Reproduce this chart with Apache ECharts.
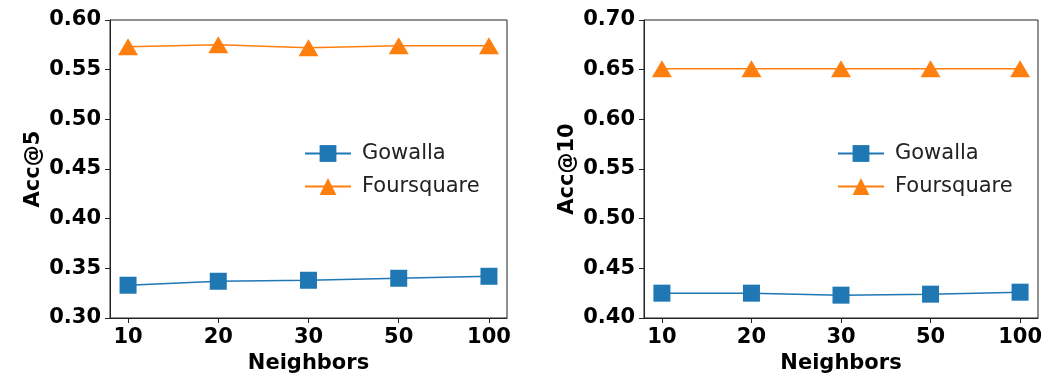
<!DOCTYPE html>
<html><head><meta charset="utf-8">
<script src="https://cdn.jsdelivr.net/npm/echarts@6/dist/echarts.min.js"></script>
<style>html,body{margin:0;padding:0;background:#fff}#c{width:1047px;height:374px}</style>
</head><body><div id="c"></div>
<script>
const categories = ['10', '20', '30', '50', '100'];
const gowallaAcc5 = [0.333, 0.337, 0.338, 0.340, 0.342];
const foursquareAcc5 = [0.573, 0.575, 0.572, 0.574, 0.574];
const gowallaAcc10 = [0.425, 0.425, 0.423, 0.424, 0.426];
const foursquareAcc10 = [0.651, 0.651, 0.651, 0.651, 0.651];
const yTicks5 = [0.30, 0.35, 0.40, 0.45, 0.50, 0.55, 0.60];
const yTicks10 = [0.40, 0.45, 0.50, 0.55, 0.60, 0.65, 0.70];

const FONT = 'DejaVu Sans';
const BLUE = '#1f77b4', ORANGE = '#ff7f0e';
const idx = categories.map((c, i) => i);
const toPts = arr => arr.map((v, i) => [i, v]);

function xAxis(gi) {
  return {
    type: 'value', gridIndex: gi, min: -0.2, max: 4.2,
    name: 'Neighbors', nameLocation: 'middle', nameGap: 33,
    nameTextStyle: {fontFamily: FONT, fontWeight: 'bold', fontSize: 21, color: '#000'},
    axisLine: {show: true, onZero: false, lineStyle: {color: '#222', width: 1}},
    axisTick: {show: true, length: 5, customValues: idx, lineStyle: {color: '#222'}},
    axisLabel: {customValues: idx, margin: 9, fontFamily: FONT, fontWeight: 'bold', fontSize: 21, color: '#000',
      formatter: v => categories[Math.round(v)]},
    splitLine: {show: false}
  };
}
function yAxis(gi, ticks, name, gap) {
  return {
    type: 'value', gridIndex: gi, min: ticks[0], max: ticks[ticks.length - 1], interval: 0.05,
    name: name, nameLocation: 'middle', nameGap: gap,
    nameTextStyle: {fontFamily: FONT, fontWeight: 'bold', fontSize: 21, color: '#000'},
    axisLine: {show: true, onZero: false, lineStyle: {color: '#222', width: 1}},
    axisTick: {show: true, length: 5, lineStyle: {color: '#222'}},
    axisLabel: {margin: 9, fontFamily: FONT, fontWeight: 'bold', fontSize: 21, color: '#000',
      formatter: v => v.toFixed(2)},
    splitLine: {show: false}
  };
}
function series(name, data, gi, color, symbol) {
  return {
    name: name, type: 'line', xAxisIndex: gi, yAxisIndex: gi, data: toPts(data),
    symbol: symbol, symbolSize: symbol === 'rect' ? 17 : [20, 17],
    lineStyle: {color: color, width: 1.5}, itemStyle: {color: color},
    emphasis: {disabled: true}, animation: false
  };
}
function legend(left, names) {
  return {
    left: left, top: 138, orient: 'vertical', itemWidth: 46, itemHeight: 21, itemGap: 12,
    data: names,
    textStyle: {fontFamily: FONT, fontSize: 21, color: '#222', padding: [0, 0, 0, 6]},
    selectedMode: false
  };
}
const chart = echarts.init(document.getElementById('c'), null, {renderer: 'canvas'});
chart.setOption({
  animation: false,
  grid: [
    {left: 110, top: 20, width: 397, height: 298, show: true, borderColor: '#222', borderWidth: 1, containLabel: false, outerBoundsMode: 'none'},
    {left: 644, top: 20, width: 394, height: 298, show: true, borderColor: '#222', borderWidth: 1, containLabel: false, outerBoundsMode: 'none'}
  ],
  xAxis: [xAxis(0), xAxis(1)],
  yAxis: [yAxis(0, yTicks5, 'Acc@5', 66), yAxis(1, yTicks10, 'Acc@10', 66)],
  legend: [
    legend(299, ['Gowalla', 'Foursquare']),
    legend(832, ['Gowalla ', 'Foursquare '])
  ],
  series: [
    series('Gowalla', gowallaAcc5, 0, BLUE, 'rect'),
    series('Foursquare', foursquareAcc5, 0, ORANGE, 'triangle'),
    series('Gowalla ', gowallaAcc10, 1, BLUE, 'rect'),
    series('Foursquare ', foursquareAcc10, 1, ORANGE, 'triangle')
  ]
});
</script></body></html>
